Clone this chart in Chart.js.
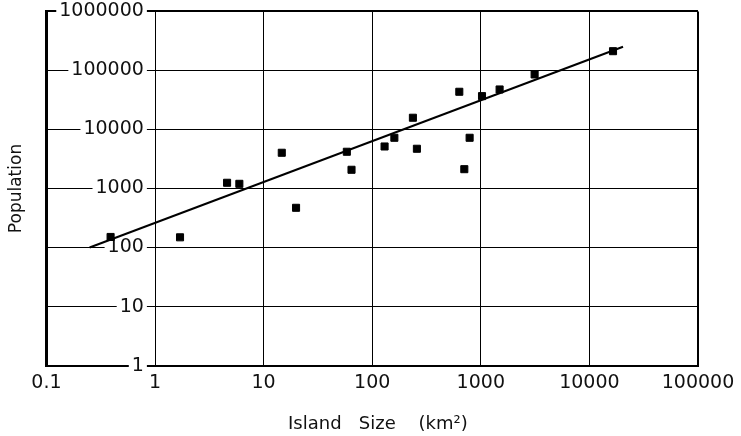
<!DOCTYPE html>
<html><head><meta charset="utf-8">
<style>html,body{margin:0;padding:0;background:#fff;} canvas{display:block;}</style>
<script src="https://cdn.jsdelivr.net/npm/chart.js@4.4.1/dist/chart.umd.min.js"></script>
</head><body>
<canvas id="c" width="741" height="436"></canvas>
<script>
const islandSize = [0.39, 1.70, 4.61, 5.98, 14.7, 19.9, 58.4, 64.5, 130, 160, 237, 258, 634, 705, 789, 1026, 1490, 3130, 16500];
const population = [151, 149, 1250, 1200, 4030, 471, 4190, 2075, 5150, 7230, 15800, 4710, 43500, 2125, 7230, 36700, 47600, 85500, 212000];
const fitLineX = [0.25, 20400];
const fitLineY = [100, 252000];
const xTickValues = [0.1, 1, 10, 100, 1000, 10000, 100000];
const xTickLabels = ['0.1', '1', '10', '100', '1000', '10000', '100000'];
const yTickValues = [1, 10, 100, 1000, 10000, 100000, 1000000];
const yTickLabels = ['1', '10', '100', '1000', '10000', '100000', '1000000'];
const xTitle = '  Island   Size    (km²)';
const yTitle = 'Population';

const FONT = 'DejaVu Sans';
new Chart(document.getElementById('c'), {
  type: 'scatter',
  data: { datasets: [
    { label: 'Islands', data: islandSize.map((x, i) => ({ x, y: population[i] })), yAxisID: 'y',
      pointStyle: 'rect', pointRadius: 5, backgroundColor: '#000', borderColor: '#000', borderWidth: 1, order: 1 },
    { label: 'Fit', type: 'line', data: fitLineX.map((x, i) => ({ x, y: fitLineY[i] })), yAxisID: 'y',
      borderColor: '#000', borderWidth: 2, pointRadius: 0, fill: false, order: 2 }
  ]},
  options: {
    responsive: false, animation: false, devicePixelRatio: 1,
    layout: { padding: { left: 4, top: 4, right: 43, bottom: 0 } },
    plugins: { legend: { display: false }, tooltip: { enabled: false } },
    scales: {
      x: {
        type: 'logarithmic', min: 0.1, max: 100000, position: 'bottom',
        afterBuildTicks: s => { s.ticks = xTickValues.map(v => ({ value: v })); },
        ticks: { callback: (v, i) => xTickLabels[i], font: { family: FONT, size: 19 }, color: '#111', padding: 6, maxRotation: 0, autoSkip: false },
        grid: { color: '#000', lineWidth: c => (c.tick && c.tick.value === 100000) ? 2 : 1, drawTicks: false },
        border: { display: true, color: '#000', width: 2, z: -1 },
        title: { display: true, text: xTitle, font: { family: FONT, size: 18 }, color: '#111', padding: { top: 13, bottom: 1 } }
      },
      y: {
        type: 'logarithmic', min: 1, max: 1000000, position: { x: 0.79 },
        afterBuildTicks: s => { s.ticks = yTickValues.map(v => ({ value: v })); },
        ticks: { callback: (v, i) => yTickLabels[i], font: { family: FONT, size: 19 }, color: '#111', padding: 0,
                 showLabelBackdrop: true, backdropColor: '#fff', backdropPadding: { x: 3, y: 1 }, autoSkip: false },
        grid: { color: '#000', lineWidth: c => (c.tick && c.tick.value === 1000000) ? 2 : 1, drawTicks: false },
        border: { display: false }
      },
      yTitle: {
        type: 'linear', axis: 'y', position: 'left', display: true,
        ticks: { display: false }, grid: { display: false, drawTicks: false },
        border: { display: true, color: '#000', width: 3, z: -1 },
        title: { display: true, text: yTitle, font: { family: FONT, size: 17 }, color: '#111', padding: { top: 2, bottom: 20 } }
      }
    }
  }
});
</script>
</body></html>
